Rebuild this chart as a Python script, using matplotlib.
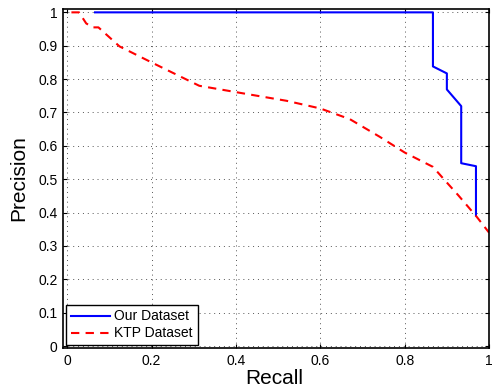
import matplotlib
matplotlib.use("Agg")
import matplotlib.pyplot as plt

plt.rcParams['font.family'] = ['Liberation Sans', 'DejaVu Sans']

our_recall = [0.066, 0.867, 0.867, 0.900, 0.900, 0.934, 0.934, 0.969, 0.969]
our_precision = [1.0, 1.0, 0.838, 0.817, 0.769, 0.719, 0.548, 0.539, 0.392]

ktp_recall = [0.01, 0.028, 0.045, 0.06, 0.074, 0.124, 0.2, 0.313, 0.432, 0.52, 0.6, 0.67,
              0.741, 0.8, 0.867, 0.9, 0.927, 0.971, 1.0]
ktp_precision = [1.0, 1.0, 0.967, 0.955, 0.955, 0.898, 0.85, 0.78, 0.754, 0.735, 0.712, 0.68,
                 0.627, 0.58, 0.537, 0.49, 0.452, 0.387, 0.34]

xticks = [0, 0.2, 0.4, 0.6, 0.8, 1]
xticklabels = ['0', '0.2', '0.4', '0.6', '0.8', '1']
yticks = [0, 0.1, 0.2, 0.3, 0.4, 0.5, 0.6, 0.7, 0.8, 0.9, 1]
yticklabels = ['0', '0.1', '0.2', '0.3', '0.4', '0.5', '0.6', '0.7', '0.8', '0.9', '1']

fig = plt.figure(figsize=(4.92, 3.92), dpi=100)
ax = fig.add_axes([0.128, 0.112, 0.866, 0.865])

ax.plot(our_recall, our_precision, color='#0000ff', lw=1.5, label='Our Dataset')
ax.plot(ktp_recall, ktp_precision, color='#ff0000', lw=1.5, ls=(0, (4, 3)), label='KTP Dataset')

ax.set_xlim(-0.01, 1.0)
ax.set_ylim(-0.006, 1.01)
ax.set_xticks(xticks)
ax.set_xticklabels(xticklabels)
ax.set_yticks(yticks)
ax.set_yticklabels(yticklabels)
ax.tick_params(direction='in', top=True, right=True, labelsize=10, length=3, width=0.8)
ax.tick_params(axis='x', pad=4.5)
ax.tick_params(axis='y', pad=4)
ax.grid(True, ls=(0, (1, 4)), color='#555555', lw=0.7)
for s in ax.spines.values():
    s.set_linewidth(1.2)

ax.set_xlabel('Recall', fontsize=15)
ax.set_ylabel('Precision', fontsize=15)
ax.xaxis.set_label_coords(0.495, -0.062)
ax.yaxis.set_label_coords(-0.082, 0.5)

leg = ax.legend(loc='lower left', fontsize=10, fancybox=False, framealpha=1,
                edgecolor='black', borderaxespad=0.2, handlelength=2.8,
                handletextpad=0.35, borderpad=0.35, labelspacing=0.22)
leg.get_frame().set_linewidth(1.0)

fig.savefig('out.png', dpi=100)
